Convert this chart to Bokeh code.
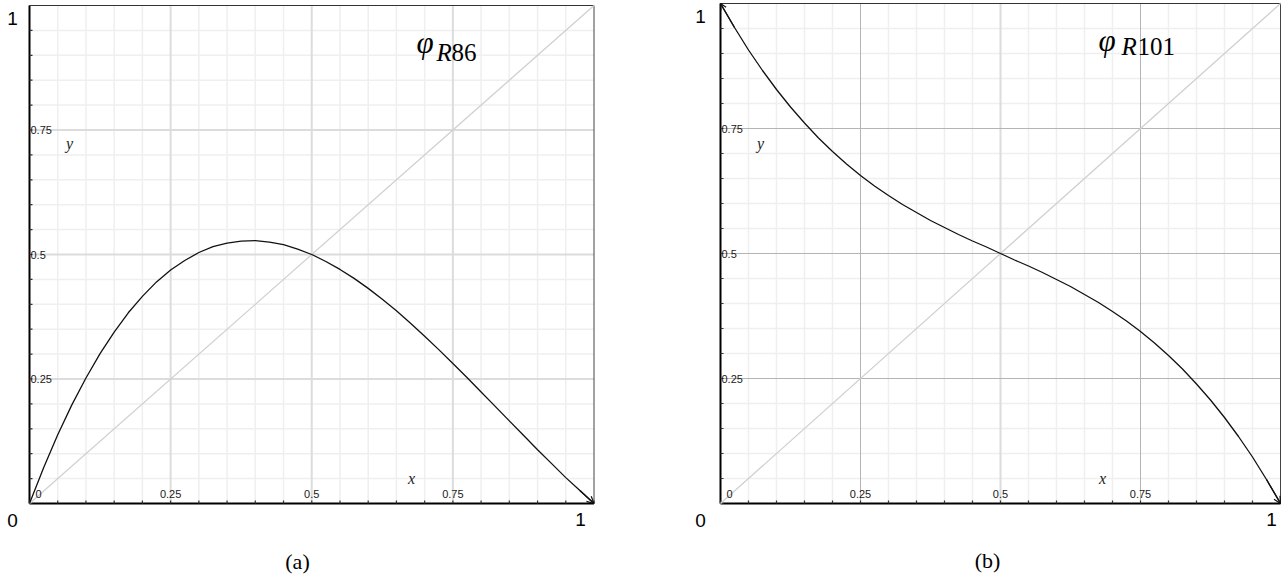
from bokeh.plotting import figure
from bokeh.models import Label, Arrow, OpenHead, Range1d
from bokeh.layouts import row
from bokeh.embed import file_html
from bokeh.resources import INLINE

# ---------------- data ----------------
p_vals = [0.000, 0.025, 0.050, 0.075, 0.100, 0.125, 0.150, 0.175, 0.200, 0.225,
          0.250, 0.275, 0.300, 0.325, 0.350, 0.375, 0.400, 0.425, 0.450, 0.475,
          0.500, 0.525, 0.550, 0.575, 0.600, 0.625, 0.650, 0.675, 0.700, 0.725,
          0.750, 0.775, 0.800, 0.825, 0.850, 0.875, 0.900, 0.925, 0.950, 0.975, 1.000]

phi_r86 = [0.000, 0.072, 0.138, 0.198, 0.252, 0.301, 0.344, 0.383, 0.416, 0.445,
           0.469, 0.488, 0.504, 0.516, 0.523, 0.527, 0.528, 0.525, 0.520, 0.511,
           0.500, 0.486, 0.470, 0.452, 0.432, 0.410, 0.387, 0.362, 0.336, 0.309,
           0.281, 0.253, 0.224, 0.195, 0.166, 0.137, 0.108, 0.080, 0.052, 0.026, 0.000]

phi_r101 = [1.000, 0.952, 0.907, 0.866, 0.828, 0.793, 0.761, 0.731, 0.704, 0.679,
            0.656, 0.635, 0.616, 0.598, 0.582, 0.566, 0.552, 0.538, 0.525, 0.513,
            0.500, 0.487, 0.475, 0.462, 0.448, 0.434, 0.418, 0.402, 0.384, 0.365,
            0.344, 0.321, 0.296, 0.269, 0.239, 0.207, 0.172, 0.134, 0.093, 0.048, 0.000]

diag_vals = [0.0, 1.0]

axis_ticks = [0.0, 0.05, 0.1, 0.15, 0.2, 0.25, 0.3, 0.35, 0.4, 0.45, 0.5,
              0.55, 0.6, 0.65, 0.7, 0.75, 0.8, 0.85, 0.9, 0.95, 1.0]
minor_ticks = [0.05, 0.1, 0.15, 0.2, 0.3, 0.35, 0.4, 0.45,
               0.55, 0.6, 0.65, 0.7, 0.8, 0.85, 0.9, 0.95]
major_ticks = [0.25, 0.5, 0.75]
major_labels = ["0.25", "0.5", "0.75"]
corner_labels = ["0", "1"]
panel_names = ["(a)", "(b)"]
rule_numbers = ["86", "101"]

SANS = "Liberation Sans"
SERIF = "Liberation Serif"
FIG_H = 578


def make_panel(curve, rule, name, fig_left, fig_w, x0px, x1px, y0px, y1px,
               grid_styles, pos, start_arrow):
    sx = x1px - x0px
    sy = y0px - y1px
    p = figure(width=fig_w, height=FIG_H,
               x_range=Range1d((fig_left - x0px) / sx, (fig_left + fig_w - x0px) / sx),
               y_range=Range1d((y0px - FIG_H) / sy, y0px / sy),
               x_axis_type=None, y_axis_type=None,
               min_border_left=0, min_border_right=0, min_border_top=0, min_border_bottom=0,
               output_backend="svg", toolbar_location=None,
               background_fill_color="white", border_fill_color="white")
    p.outline_line_color = None
    p.xgrid.visible = False
    p.ygrid.visible = False

    def fx(px):
        return (px - x0px) / sx

    def fy(py):
        return (y0px - py) / sy

    zeros_m = [0.0] * len(minor_ticks)
    ones_m = [1.0] * len(minor_ticks)
    # minor grid
    p.segment(x0=minor_ticks, y0=zeros_m, x1=minor_ticks, y1=ones_m,
              line_color="#efefef", line_width=1.5)
    p.segment(x0=zeros_m, y0=minor_ticks, x1=ones_m, y1=minor_ticks,
              line_color="#efefef", line_width=1.5)
    # major grid
    for dim, ticks, col, w in grid_styles:
        z = [0.0] * len(ticks)
        o = [1.0] * len(ticks)
        if dim == "x":
            p.segment(x0=ticks, y0=z, x1=ticks, y1=o, line_color=col, line_width=w)
        else:
            p.segment(x0=z, y0=ticks, x1=o, y1=ticks, line_color=col, line_width=w)

    # frame: top and right thin, left and bottom heavy
    p.line(diag_vals, [1.0, 1.0], line_color="#333333", line_width=1.2)
    p.line([1.0, 1.0], diag_vals, line_color="#444444", line_width=1.0)
    p.line(diag_vals, [0.0, 0.0], line_color="black", line_width=2)
    p.line([0.0, 0.0], diag_vals, line_color="black", line_width=2)

    # tick marks on the axes (pointing inwards)
    tz = [0.0] * len(axis_ticks)
    p.segment(x0=axis_ticks, y0=tz, x1=axis_ticks, y1=[3.0 / sy] * len(axis_ticks),
              line_color="#333333", line_width=1.2)
    p.segment(x0=tz, y0=axis_ticks, x1=[3.0 / sx] * len(axis_ticks), y1=axis_ticks,
              line_color="#333333", line_width=1.2)

    # lines
    p.line(diag_vals, diag_vals, line_color="#cfcfcf", line_width=1.2)
    p.line(p_vals, curve, line_color="#111111", line_width=1.3)
    p.add_layout(Arrow(end=OpenHead(size=7, line_width=1.2, line_color="#111111"),
                       x_start=p_vals[-2], y_start=curve[-2],
                       x_end=p_vals[-1], y_end=curve[-1],
                       line_color="#111111", line_width=1.3))
    if start_arrow:
        p.add_layout(Arrow(end=OpenHead(size=6, line_width=1.2, line_color="#111111"),
                           x_start=p_vals[1], y_start=curve[1],
                           x_end=p_vals[0], y_end=curve[0],
                           line_color="#111111", line_width=1.3))

    small = dict(text_font=SANS, text_font_size="11px", text_color="#1a1a1a",
                 text_baseline="middle")
    # inner tick labels
    for t, s in zip(major_ticks, major_labels):
        p.add_layout(Label(x=fx(x0px + 1), y=t, text=s, text_align="left", **small))
        p.add_layout(Label(x=t, y=fy(y0px - 10), text=s, text_align="center", **small))
    p.add_layout(Label(x=fx(x0px + 6), y=fy(y0px - 10), text=corner_labels[0],
                       text_align="left", **small))

    # big corner labels
    big = dict(text_font=SANS, text_font_size="19px", text_color="black",
               text_align="center", text_baseline="middle")
    (t1x, t1y), (b0x, b0y), (b1x, b1y), (cx, cy), (yx, yy), (xx, xy), ttl = pos
    p.add_layout(Label(x=fx(t1x), y=fy(t1y), text=corner_labels[1], **big))
    p.add_layout(Label(x=fx(b0x), y=fy(b0y), text=corner_labels[0], **big))
    p.add_layout(Label(x=fx(b1x), y=fy(b1y), text=corner_labels[1], **big))

    # axis names
    it = dict(text_font=SERIF, text_font_style="italic", text_font_size="16px",
              text_align="center", text_baseline="middle", text_color="#222222")
    p.add_layout(Label(x=fx(yx), y=fy(yy), text="y", **it))
    p.add_layout(Label(x=fx(xx), y=fy(xy), text="x", **it))

    # title phi_R..
    phx, phy, rx, ry, dx = ttl
    p.add_layout(Label(x=fx(phx), y=fy(phy), text="φ", text_font=SERIF,
                       text_font_style="italic", text_font_size="31px",
                       text_align="left", text_baseline="alphabetic", text_color="black"))
    p.add_layout(Label(x=fx(rx), y=fy(ry), text="R", text_font=SERIF,
                       text_font_style="italic", text_font_size="25px",
                       text_align="left", text_baseline="alphabetic", text_color="black"))
    p.add_layout(Label(x=fx(dx), y=fy(ry), text=rule, text_font=SERIF,
                       text_font_size="25px",
                       text_align="left", text_baseline="alphabetic", text_color="black"))

    # panel caption
    p.add_layout(Label(x=fx(cx), y=fy(cy), text=name,
                       text_font=SERIF, text_font_size="22px", text_color="black",
                       text_align="center", text_baseline="middle"))
    return p


light = "#dcdcdc"
dark = "#b4b4b4"

p1 = make_panel(phi_r86, rule_numbers[0], panel_names[0], 0, 650, 29.0, 593.5, 503.0, 5.0,
                [("x", major_ticks, light, 2), ("y", major_ticks, light, 2)],
                [(12, 18), (12, 520), (580, 519), (297, 561), (69, 143), (411, 478),
                 (416, 42, 436, 52, 451)],
                False)
p2 = make_panel(phi_r101, rule_numbers[1], panel_names[1], 650, 631, 720.0, 1280.0, 503.0, 3.0,
                [("x", [0.5], light, 2), ("x", [0.25, 0.75], dark, 1),
                 ("y", major_ticks, dark, 1)],
                [(700, 16), (700, 520), (1271, 519), (987, 560), (760, 143), (1102, 478),
                 (1098, 40, 1121, 46, 1137)],
                True)

layout = row(p1, p2)
open("out.html", "w").write(file_html(layout, INLINE))
